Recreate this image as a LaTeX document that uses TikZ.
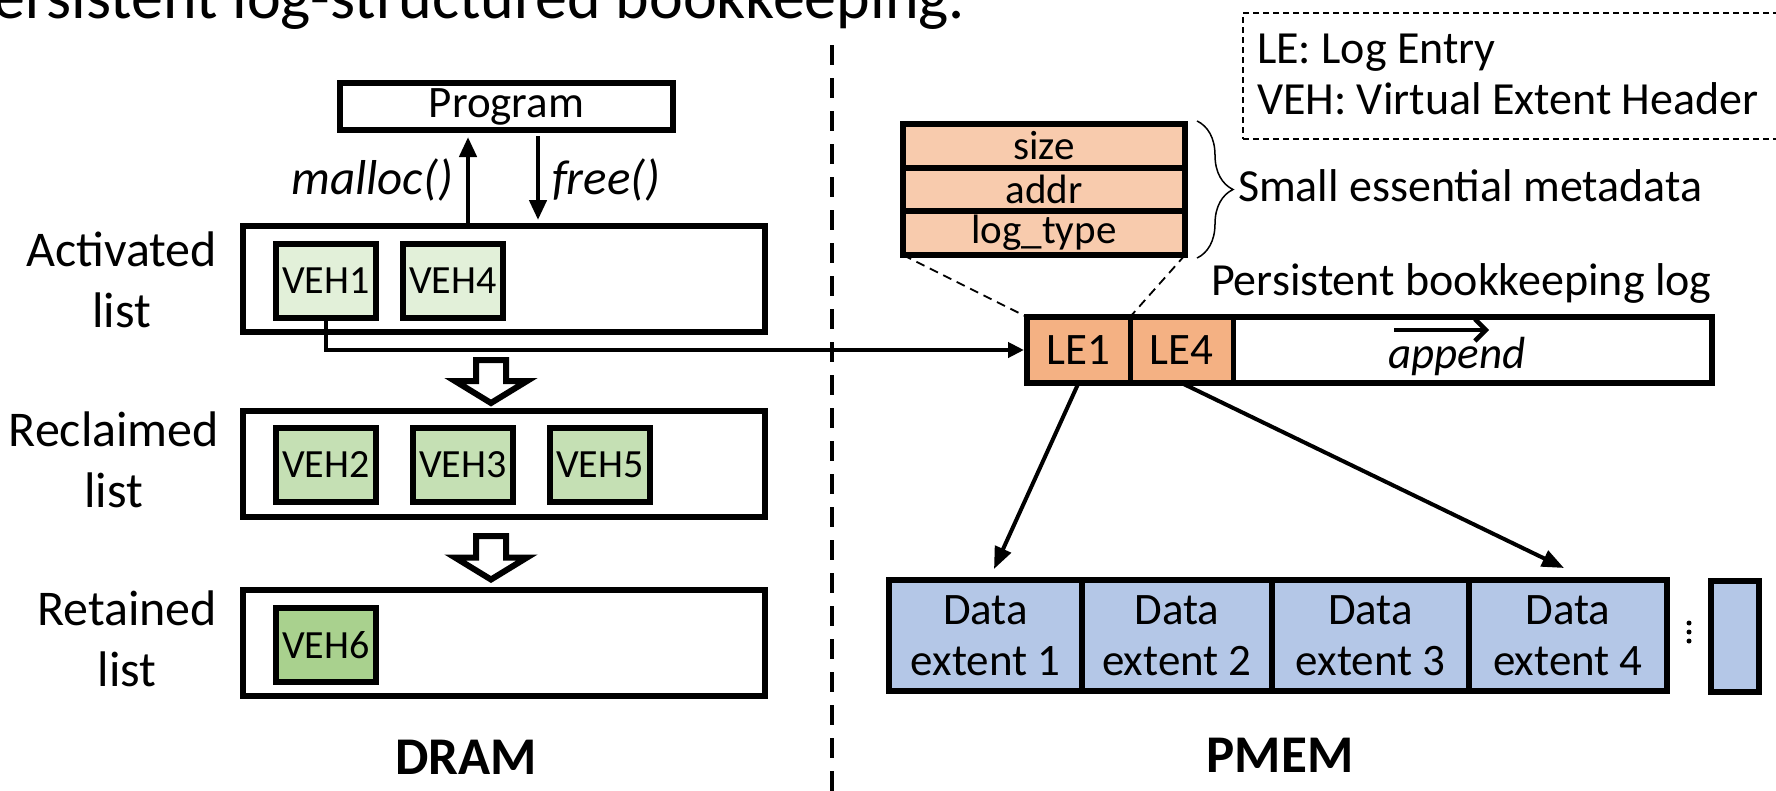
\documentclass[tikz,border=0pt]{standalone}
\usepackage{fontspec}
\setmainfont{Carlito}
\usetikzlibrary{arrows.meta,decorations.pathreplacing,calc}

\definecolor{vehlight}{HTML}{E2F0D9}
\definecolor{vehmid}{HTML}{C5E0B4}
\definecolor{vehdark}{HTML}{A9D18E}
\definecolor{metafill}{HTML}{F8CBAD}
\definecolor{lefill}{HTML}{F4B183}
\definecolor{datafill}{HTML}{B4C7E7}

\newcommand\fsz[2]{\fontsize{#1}{#2}\selectfont}

\tikzset{
  every node/.style={inner sep=0pt, outer sep=0pt},
  listbox/.style={draw, line width=6pt, minimum width=522pt, minimum height=106pt},
  vehbox/.style={draw, line width=6pt, minimum width=100pt, minimum height=74pt, font=\fsz{40}{46}},
  progbox/.style={draw, line width=6pt, minimum width=333pt, minimum height=47pt, font=\fsz{45}{52}},
  listlabel/.style={font=\fsz{50}{61}, align=center, anchor=east},
  metarow/.style={draw, line width=6pt, fill=metafill, minimum width=282pt, minimum height=43.7pt, font=\fsz{41}{48}},
  lecell/.style={draw, line width=5pt, minimum height=66pt, font=\fsz{45}{52}},
  datacell/.style={draw, line width=6pt, fill=datafill, minimum height=111pt, font=\fsz{45}{51}, align=center},
  conn/.style={line width=4pt},
  callarrow/.style={line width=4.5pt, -{Triangle[length=20pt,width=17pt]}},
  hollow/.style={draw, line width=6pt, fill=white, line join=miter},
  memlabel/.style={font=\fsz{53}{60}\bfseries},
  plain/.style={font=\fsz{46}{54}},
  zoomline/.style={line width=1.8pt, dash pattern=on 9pt off 6pt},
}

\begin{document}
\begin{tikzpicture}[x=1pt,y=-1pt]
\useasboundingbox (0,0) rectangle (1776,790);
\clip (0,0) rectangle (1776,790);

% heading running off the top edge
\node[anchor=base west, font=\fsz{64}{75}] (title) at (-38,18) {Persistent log-structured bookkeeping.};

% DRAM / PMEM separator
\coordinate (septop) at (832,45);
\coordinate (sepbot) at (832,795);
\draw[line width=4pt, dash pattern=on 20pt off 13pt] (septop) -- (sepbot);

% legend
\node[draw, line width=1.5pt, dash pattern=on 6pt off 4pt, minimum width=560pt, minimum height=126pt, anchor=north west] (legend) at (1243,13) {};
\node[anchor=base west, plain] (leg1) at (1257,63) {LE: Log Entry};
\node[anchor=base west, plain] (leg2) at (1257,114) {VEH: Virtual Extent Header};

% ---------------- DRAM side ----------------
\node[progbox] (prog) at (506.5,106.5) {Program};

\node[listbox] (act) at (504,279) {};
\node[listbox] (rec) at (504,464) {};
\node[listbox] (ret) at (504,642.5) {};

\node[listlabel] (lact) at (217,280) {Activated\\list};
\node[listlabel] (lrec) at (219,460) {Reclaimed\\list};
\node[listlabel] (lret) at (217,639) {Retained\\list};

\node[vehbox, fill=vehlight] (veh1) at (326,280.5) {VEH1};
\node[vehbox, fill=vehlight] (veh4) at (453,280.5) {VEH4};
\node[vehbox, fill=vehmid] (veh2) at (326,465) {VEH2};
\node[vehbox, fill=vehmid] (veh3) at (463,465) {VEH3};
\node[vehbox, fill=vehmid] (veh5) at (600,465) {VEH5};
\node[vehbox, fill=vehdark] (veh6) at (326,645) {VEH6};

% malloc / free
\coordinate (mx) at (468,0);
\coordinate (fx) at (538,0);
\draw[callarrow, shorten <=3pt, shorten >=7pt] (act.north -| mx) -- (prog.south -| mx);
\draw[callarrow, shorten <=6pt, shorten >=6pt] (prog.south -| fx) -- (act.north -| fx);
\node[anchor=east, font=\fsz{49}{56}\itshape] (malloc) at (453,180) {malloc()};
\node[anchor=west, font=\fsz{49}{56}\itshape] (free) at (552,180) {free()};

% block arrows between the lists
\coordinate (h1top) at ($(act.south)+(-13,28)$);
\coordinate (h1tip) at ($(rec.north)+(-13,-8)$);
\draw[hollow] ($(h1top)+(-15,0)$) -- ($(h1top)+(15,0)$) -- ($(h1tip)+(15,-22)$) -- ($(h1tip)+(36,-22)$)
  -- (h1tip) -- ($(h1tip)+(-36,-22)$) -- ($(h1tip)+(-15,-22)$) -- cycle;
\coordinate (h2top) at ($(rec.south)+(-13,19)$);
\coordinate (h2tip) at ($(ret.north)+(-13,-10)$);
\draw[hollow] ($(h2top)+(-15,0)$) -- ($(h2top)+(15,0)$) -- ($(h2tip)+(15,-22)$) -- ($(h2tip)+(36,-22)$)
  -- (h2tip) -- ($(h2tip)+(-36,-22)$) -- ($(h2tip)+(-15,-22)$) -- cycle;

\node[memlabel] (dram) at (466,757) {DRAM};

% ---------------- PMEM side ----------------
\node[metarow] (m1) at (1044,145.8) {size};
\node[metarow] (m2) at (1044,189.5) {addr};
\node[metarow] (m3) at (1044,233.2) {log\_type};

\draw[line width=1.5pt, decorate, decoration={brace, amplitude=36pt, aspect=0.5}]
  ($(m1.north east)+(12,-3)$) -- ($(m3.south east)+(12,3)$);
\node[anchor=base west, plain] (sem) at (1238,201) {Small essential metadata};
\node[anchor=base west, plain] (pbl) at (1211,295) {Persistent bookkeeping log};

\node[lecell, fill=lefill, minimum width=103pt] (le1) at (1078.5,350) {LE1};
\node[lecell, fill=lefill, minimum width=103pt] (le4) at (1181.5,350) {LE4};
\node[lecell, fill=white, minimum width=479pt] (logfree) at (1472.5,350) {};
\draw[line width=6pt] (le1.north west) rectangle (logfree.south east);

\draw[zoomline] (m3.south west) -- (le1.north west);
\draw[zoomline] (m3.south east) -- (le1.north east);

\node[anchor=base, font=\fsz{45}{52}\itshape] (app) at (1457,368) {append};
\coordinate (aps) at (1394,330);
\coordinate (ape) at (1489,330);
\draw[line width=4.5pt, -{Straight Barb[length=11pt,width=22pt,line width=4.5pt]}] (aps) -- (ape);

% VEH1 points at its log entry
\draw[conn, -{Triangle[length=16pt,width=15pt]}, shorten >=3pt] (veh1.south) |- (le1.west);

% data extents
\node[datacell, minimum width=193pt] (d1) at (985.5,635.5) {Data\\extent 1};
\node[datacell, minimum width=190pt] (d2) at (1177,635.5) {Data\\extent 2};
\node[datacell, minimum width=197pt] (d3) at (1370.5,635.5) {Data\\extent 3};
\node[datacell, minimum width=198pt] (d4) at (1568,635.5) {Data\\extent 4};
\node[datacell, minimum width=48pt] (d5) at (1735,636.5) {};
\fill (1689,623) circle (2.5);
\fill (1689,632) circle (2.5);
\fill (1689,641) circle (2.5);

\coordinate (t1) at (994,569);
\coordinate (t4) at (1564,568);
\draw[conn, -{Triangle[length=22pt,width=17pt]}] (le1.south) -- (t1);
\draw[conn, -{Triangle[length=22pt,width=17pt]}] (le4.south) -- (t4);

\node[memlabel] (pmem) at (1280,755) {PMEM};
\end{tikzpicture}
\end{document}
